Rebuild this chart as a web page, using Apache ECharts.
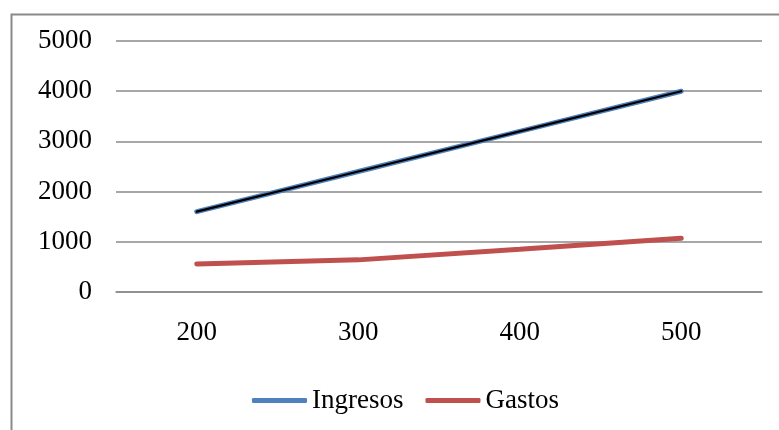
<!DOCTYPE html>
<html>
<head>
<meta charset="utf-8">
<script src="https://cdn.jsdelivr.net/npm/echarts@6/dist/echarts.min.js"></script>
<style>html,body{margin:0;padding:0;background:#fff}#c{width:779px;height:430px}</style>
</head>
<body>
<div id="c"></div>
<script>
var categories = ['200', '300', '400', '500'];
var ingresos = [1600, 2400, 3200, 4000];
var gastos = [560, 640, 850, 1070];
var yTicks = [0, 1000, 2000, 3000, 4000, 5000];

var chart = echarts.init(document.getElementById('c'), null, {renderer: 'canvas'});
var font = 'Liberation Serif';
chart.setOption({
  animation: false,
  backgroundColor: '#fff',
  graphic: [{
    type: 'rect', left: 9, top: 12, silent: true,
    shape: {x: 0, y: 0, width: 820, height: 480},
    style: {fill: 'none', stroke: '#8a8a8a', lineWidth: 2}
  }],
  grid: {left: 116, right: 17, top: 41, bottom: 138},
  legend: {
    data: ['Ingresos', 'Gastos'],
    bottom: 16,
    left: 252,
    padding: 0,
    icon: 'roundRect',
    itemWidth: 55,
    itemHeight: 5,
    itemGap: 22,
    textStyle: {fontFamily: font, fontSize: 27, color: '#000'}
  },
  xAxis: {
    type: 'category',
    data: categories,
    boundaryGap: true,
    axisLine: {show: true, lineStyle: {color: '#8a8a8a', width: 1.5}},
    axisTick: {show: false},
    axisLabel: {fontFamily: font, fontSize: 27, color: '#000', margin: 27}
  },
  yAxis: {
    type: 'value',
    min: yTicks[0],
    max: yTicks[yTicks.length - 1],
    interval: 1000,
    axisLine: {show: false},
    axisTick: {show: false},
    axisLabel: {fontFamily: font, fontSize: 27, color: '#000', margin: 24,
      formatter: function (v) { return String(v); }},
    splitLine: {lineStyle: {color: '#8a8a8a', width: 1.5}}
  },
  series: [
    {
      name: 'Ingresos', type: 'line', data: ingresos, symbol: 'none',
      lineStyle: {color: '#4F81BD', width: 5, cap: 'round'},
      itemStyle: {color: '#4F81BD'}
    },
    {
      name: 'Ingresos_overlay', type: 'line', data: ingresos, symbol: 'none',
      lineStyle: {color: '#000', width: 2.2, cap: 'round'},
      itemStyle: {color: '#000'}
    },
    {
      name: 'Gastos', type: 'line', data: gastos, symbol: 'none',
      lineStyle: {color: '#C0504D', width: 5, cap: 'round'},
      itemStyle: {color: '#C0504D'}
    }
  ]
});
</script>
</body>
</html>
